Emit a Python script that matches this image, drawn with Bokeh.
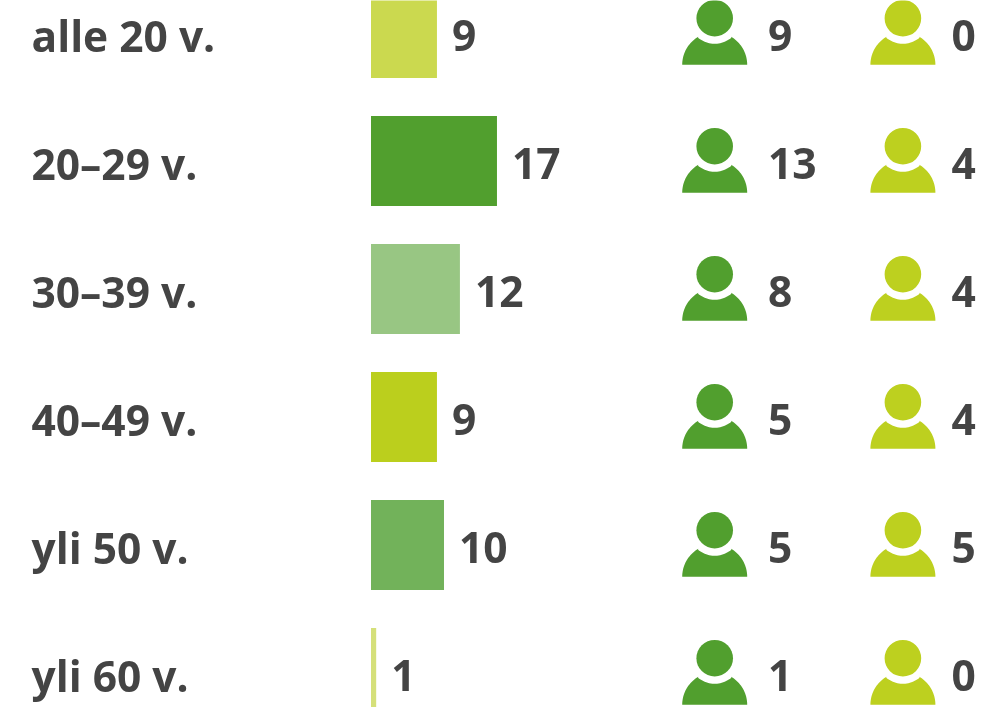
import numpy as np
from bokeh.plotting import figure
from bokeh.models import Range1d
from bokeh.core.properties import value
from bokeh.embed import file_html
from bokeh.resources import INLINE

categories = ["alle 20 v.", "20–29 v.", "30–39 v.", "40–49 v.", "yli 50 v.", "yli 60 v."]
totals = [9, 17, 12, 9, 10, 1]
bar_lengths = [8.9, 17.0, 12.0, 8.9, 9.85, 0.7]
men = [9, 13, 8, 5, 5, 1]
women = [0, 4, 4, 4, 5, 0]
bar_colors = ["#cbd94f", "#519f2e", "#98c683", "#bbcf1d", "#72b25a", "#d5e07a"]

GREEN = "#519f2e"
LIME = "#bdd01f"
TEXT = "#444444"
FONT = "Open Sans"
FS = "42.5px"

W, H = 989, 707
PITCH = 128.0
SCALE = 7.41
BAR_X = 370.5
BAR_H = 90

p = figure(width=W, height=H, output_backend="svg", toolbar_location=None,
           x_range=Range1d(0, W), y_range=Range1d(H, 0), min_border=0,
           outline_line_color=None, background_fill_color="white")
p.axis.visible = False
p.xgrid.visible = False
p.ygrid.visible = False
p.styles = {"position": "fixed", "left": "0px", "top": "0px"}

rows = np.arange(len(categories))
centers = 32.5 + rows * PITCH

p.quad(left=BAR_X, right=[BAR_X + b * SCALE for b in bar_lengths],
       top=centers - BAR_H / 2, bottom=centers + BAR_H / 2,
       fill_color=bar_colors, line_color=None)


def body(cx, base):
    """Dome with a notch around the head."""
    R, hy, nr = 32.5, base - 46.6, 25.6
    a0 = np.arctan2(27.7, 16.2)
    t1 = np.linspace(np.pi, np.pi - a0, 24)
    xs1 = cx + R * np.cos(t1)
    ys1 = base - R * np.sin(t1)
    b0 = np.arctan2(18.9, 16.2)
    t2 = np.linspace(np.pi - b0, b0, 24)
    xs2 = cx + nr * np.cos(t2)
    ys2 = hy + nr * np.sin(t2)
    t3 = np.linspace(a0, 0, 24)
    xs3 = cx + R * np.cos(t3)
    ys3 = base - R * np.sin(t3)
    return np.concatenate([xs1, xs2, xs3]), np.concatenate([ys1, ys2, ys3])


for cx, col in ((714.2, GREEN), (902.4, LIME)):
    heads_y = 17.7 + rows * PITCH
    p.circle(x=[cx] * len(rows), y=heads_y, radius=18.3, fill_color=col, line_color=None)
    xs, ys = [], []
    for r in rows:
        a, b = body(cx, 64.3 + r * PITCH)
        xs.append(list(a))
        ys.append(list(b))
    p.patches(xs, ys, fill_color=col, line_color=None)

base_y = 34.5 + rows * PITCH


def txt(x, labels):
    p.text(x=x, y=base_y, text=labels, text_font=value(FONT), text_font_size=FS,
           text_font_style="bold", text_color=TEXT, text_align="left",
           text_baseline="alphabetic")


txt([31] * 6, categories)
txt([BAR_X + b * SCALE + 15 for b in bar_lengths], [str(v) for v in totals])
txt([767.5] * 6, [str(v) for v in men])
txt([951] * 6, [str(v) for v in women])

open("out.html", "w").write(file_html(p, INLINE))
